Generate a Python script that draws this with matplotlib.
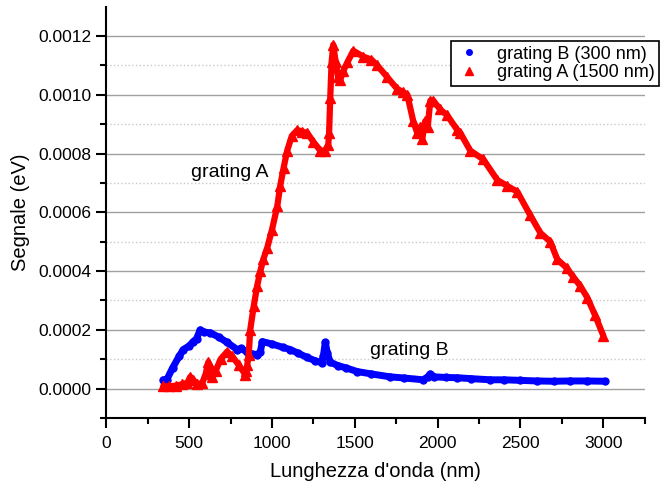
import matplotlib
matplotlib.use("Agg")
import matplotlib.pyplot as plt
from matplotlib.ticker import MultipleLocator, FormatStrFormatter

plt.rcParams["font.family"] = ["Liberation Sans", "DejaVu Sans"]

# grating B (300 nm)
wl_b = [344, 365, 400, 440, 465, 500, 525, 545, 567, 590, 628, 680, 730, 790, 815,
        851, 880, 911, 930, 942, 1000, 1068, 1110, 1160, 1213, 1260, 1300, 1310, 1322,
        1335, 1352, 1400, 1450, 1515, 1600, 1714, 1800, 1913, 1940, 1956, 1980, 2050,
        2119, 2200, 2318, 2400, 2500, 2600, 2700, 2800, 2900, 3010]
sig_b = [0.00003, 0.00003, 0.00007, 0.00011, 0.000133, 0.000145, 0.00016, 0.00017, 0.0002,
         0.000192, 0.00019, 0.000175, 0.000157, 0.000133, 0.000137, 0.000123, 0.000118,
         0.000116, 0.000125, 0.00016, 0.000152, 0.00014, 0.000133, 0.00012, 0.000106,
         0.000095, 0.000088, 0.00011, 0.000157, 0.00012, 0.00009, 0.000078, 0.00007,
         0.000058, 0.00005, 0.00004, 0.000036, 0.00003, 0.00004, 0.00005, 0.00004,
         0.000038, 0.000037, 0.000034, 0.00003, 0.00003, 0.000028, 0.000026, 0.000025,
         0.000026, 0.000026, 0.000025]

# grating A (1500 nm)
wl_a = [344, 380, 420, 460, 490, 507, 525, 549, 580, 600, 616, 630, 640, 660, 690, 730,
        760, 800, 839, 845, 851, 860, 869, 890, 911, 930, 948, 972, 1000, 1032, 1050,
        1070, 1092, 1120, 1153, 1183, 1213, 1250, 1292, 1320, 1340, 1345, 1352, 1360,
        1370, 1385, 1400, 1412, 1430, 1455, 1491, 1551, 1600, 1636, 1696, 1756, 1790,
        1817, 1853, 1877, 1895, 1907, 1925, 1940, 1956, 1974, 2016, 2058, 2119, 2137,
        2197, 2276, 2360, 2420, 2481, 2559, 2620, 2680, 2722, 2780, 2819, 2860, 2903,
        2950, 3000]
sig_a = [0.000008, 0.000008, 0.00001, 0.000015, 0.00002, 0.00004, 0.00003, 0.000014,
         0.00002, 0.00005, 0.00009, 0.00007, 0.00004, 0.00006, 0.0001, 0.000126,
         0.00011, 0.00008, 0.000048, 0.00006, 0.00008, 0.000116, 0.0002, 0.00028,
         0.00035, 0.0004, 0.00044, 0.00048, 0.00054, 0.00062, 0.00069, 0.00075,
         0.00081, 0.00086, 0.00088, 0.000875, 0.00087, 0.00084, 0.00081, 0.00081,
         0.00083, 0.00087, 0.00099, 0.00111, 0.00117, 0.00111, 0.00106, 0.00105,
         0.00108, 0.00111, 0.00115, 0.00113, 0.00112, 0.0011, 0.00106, 0.00102,
         0.00101, 0.001, 0.00091, 0.00087, 0.00089, 0.00085, 0.00091, 0.00089,
         0.00098, 0.00098, 0.00095, 0.00093, 0.00088, 0.00087, 0.00081, 0.00078,
         0.00071, 0.00069, 0.00067, 0.00059, 0.00053, 0.0005, 0.00044, 0.00041,
         0.00038, 0.00035, 0.00031, 0.00025, 0.00018]

fig = plt.figure(figsize=(6.64, 4.83), dpi=100)
ax = fig.add_axes([0.16, 0.1346, 0.811, 0.851])

ax.plot(wl_b, sig_b, color="blue", lw=5, zorder=3, solid_capstyle="round")
ax.plot(wl_b, sig_b, "o", color="blue", ms=5, ls="none", zorder=3,
        label="grating B (300 nm)")
ax.plot(wl_a, sig_a, color="red", lw=4.5, zorder=4, solid_capstyle="round")
ax.plot(wl_a, sig_a, "^", color="red", ms=7, ls="none", zorder=4,
        label="grating A (1500 nm)")

ax.set_xlim(0, 3250)
ax.set_ylim(-0.0001, 0.001299)
ax.xaxis.set_major_locator(MultipleLocator(500))
ax.xaxis.set_minor_locator(MultipleLocator(250))
ax.yaxis.set_major_locator(MultipleLocator(0.0002))
ax.yaxis.set_minor_locator(MultipleLocator(0.0001))
ax.yaxis.set_major_formatter(FormatStrFormatter("%.4f"))

ax.grid(axis="y", which="major", color="#a0a0a0", lw=1, ls="-", zorder=0)
ax.grid(axis="y", which="minor", color="#c8c8c8", lw=1, ls=":", zorder=0)
ax.set_axisbelow(True)

for s in ["top", "right"]:
    ax.spines[s].set_visible(False)
for s in ["left", "bottom"]:
    ax.spines[s].set_linewidth(1.5)

ax.tick_params(which="major", direction="out", length=7, width=1.5, labelsize=12.5,
               colors="black")
ax.tick_params(which="minor", direction="out", length=4, width=1.5)
ax.tick_params(axis="x", pad=6)

ax.set_xlabel("Lunghezza d'onda (nm)", fontsize=14.5, labelpad=8)
ax.set_ylabel("Segnale (eV)", fontsize=14.5, labelpad=6)

ax.text(748, 0.000736, "grating A", fontsize=14, ha="center", va="center")
ax.text(1829, 0.00013, "grating B", fontsize=14, ha="center", va="center")

leg = ax.legend(loc="upper left", bbox_to_anchor=(0.64, 0.917), borderaxespad=0,
                fontsize=13, frameon=True, fancybox=False, edgecolor="black",
                framealpha=1, handlelength=1.5, handletextpad=0.8,
                borderpad=0.25, labelspacing=0.1, markerscale=0.8)
leg.get_frame().set_linewidth(1.2)

fig.savefig("out.png", dpi=100)
